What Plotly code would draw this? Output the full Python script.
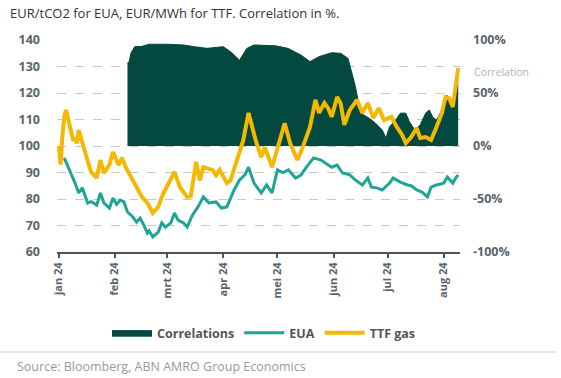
import plotly.graph_objects as go

# ---------------- data ----------------
ttf_dates = ["2024-01-01", "2024-01-02", "2024-01-03", "2024-01-04", "2024-01-05", "2024-01-08",
             "2024-01-09", "2024-01-10", "2024-01-11", "2024-01-12", "2024-01-14", "2024-01-16",
             "2024-01-18", "2024-01-19", "2024-01-22", "2024-01-24", "2024-01-26", "2024-01-29",
             "2024-01-31", "2024-02-03", "2024-02-05", "2024-02-07", "2024-02-10", "2024-02-13",
             "2024-02-16", "2024-02-19", "2024-02-22", "2024-02-25", "2024-02-27", "2024-03-01",
             "2024-03-05", "2024-03-08", "2024-03-12", "2024-03-14", "2024-03-15", "2024-03-17",
             "2024-03-19", "2024-03-21", "2024-03-26", "2024-03-28", "2024-03-30", "2024-04-03",
             "2024-04-05", "2024-04-10", "2024-04-12", "2024-04-15", "2024-04-17", "2024-04-19",
             "2024-04-22", "2024-04-24", "2024-04-28", "2024-05-01", "2024-05-03", "2024-05-05",
             "2024-05-08", "2024-05-12", "2024-05-15", "2024-05-19", "2024-05-22", "2024-05-24",
             "2024-05-27", "2024-05-29", "2024-05-31", "2024-06-03", "2024-06-05", "2024-06-07",
             "2024-06-10", "2024-06-14", "2024-06-17", "2024-06-20", "2024-06-23", "2024-06-26",
             "2024-06-29", "2024-07-03", "2024-07-06", "2024-07-09", "2024-07-11", "2024-07-14",
             "2024-07-17", "2024-07-19", "2024-07-22", "2024-07-25", "2024-07-28", "2024-07-31",
             "2024-08-02", "2024-08-04", "2024-08-06", "2024-08-08", "2024-08-09"]
ttf_values = [100, 93, 104, 111, 113.6, 104,
              102, 103, 101, 106, 101, 96,
              92, 90, 88, 94.7, 89.8, 93,
              97.7, 92.8, 95.5, 92, 88.3, 84,
              80.8, 78.5, 74.7, 77, 80.8, 85,
              90.2, 84.5, 80.8, 81, 86, 94,
              87, 92, 91, 89, 91, 86,
              87, 98.5, 102, 112.5, 107, 102,
              95.8, 99.6, 92, 99.6, 104, 108.6,
              101, 94.7, 99.6, 107.2, 117.4, 112.5,
              116.2, 114.3, 111, 118.5, 116, 108,
              113.6, 117.4, 112.5, 116.2, 110.6, 114.3,
              109.8, 111, 107.2, 104.2, 101.1, 103.4,
              106.8, 103, 103.4, 102.3, 107.2, 112.5,
              118.5, 118, 114.7, 125, 129.4]

eua_dates = ["2024-01-04", "2024-01-07", "2024-01-10", "2024-01-12", "2024-01-14", "2024-01-17",
             "2024-01-19", "2024-01-22", "2024-01-24", "2024-01-26", "2024-01-29", "2024-01-31",
             "2024-02-02", "2024-02-04", "2024-02-06", "2024-02-08", "2024-02-11", "2024-02-13",
             "2024-02-15", "2024-02-17", "2024-02-19", "2024-02-20", "2024-02-22", "2024-02-25",
             "2024-02-27", "2024-02-29", "2024-03-03", "2024-03-05", "2024-03-07", "2024-03-10",
             "2024-03-12", "2024-03-15", "2024-03-18", "2024-03-21", "2024-03-24", "2024-03-28",
             "2024-03-31", "2024-04-03", "2024-04-07", "2024-04-10", "2024-04-13", "2024-04-15",
             "2024-04-18", "2024-04-22", "2024-04-25", "2024-04-28", "2024-05-01", "2024-05-04",
             "2024-05-07", "2024-05-11", "2024-05-14", "2024-05-17", "2024-05-21", "2024-05-25",
             "2024-05-28", "2024-05-31", "2024-06-03", "2024-06-06", "2024-06-10", "2024-06-13",
             "2024-06-17", "2024-06-20", "2024-06-22", "2024-06-25", "2024-06-28", "2024-07-02",
             "2024-07-04", "2024-07-08", "2024-07-12", "2024-07-14", "2024-07-17", "2024-07-20",
             "2024-07-23", "2024-07-25", "2024-07-28", "2024-08-01", "2024-08-03", "2024-08-06",
             "2024-08-08", "2024-08-09"]
eua_values = [95.5, 91, 86, 82.3, 84.2, 78.5,
              79, 77.7, 82.3, 78.5, 76.6, 80.4,
              78, 79.6, 78.9, 75.1, 73.2, 71.3,
              72.8, 70.2, 67.2, 68, 65.7, 67.5,
              71, 69.4, 71, 74.7, 72, 71,
              69.4, 74, 77, 80.8, 78.5, 78.9,
              76.6, 77, 83.4, 87.2, 89.1, 92,
              86, 82.3, 85.3, 82.3, 91, 90,
              91, 87.9, 89, 92, 95.5, 94.7,
              93.5, 92, 92.8, 89.8, 89.1, 87.2,
              85.3, 87.9, 84.5, 84.2, 83.4, 86,
              87.9, 86.4, 85.3, 85, 83.4, 82.6,
              80.8, 84.5, 85.3, 86, 88.3, 86,
              88.3, 89.1]

corr_dates = ["2024-02-08", "2024-02-09", "2024-02-10", "2024-02-12", "2024-02-16", "2024-02-20",
              "2024-03-01", "2024-03-10", "2024-03-16", "2024-03-23", "2024-04-01", "2024-04-05",
              "2024-04-10", "2024-04-14", "2024-04-18", "2024-04-30", "2024-05-07", "2024-05-14",
              "2024-05-19", "2024-05-24", "2024-05-31", "2024-06-05", "2024-06-09", "2024-06-11",
              "2024-06-13", "2024-06-16", "2024-06-20", "2024-06-24", "2024-06-28", "2024-06-30",
              "2024-07-02", "2024-07-06", "2024-07-08", "2024-07-11", "2024-07-13", "2024-07-16",
              "2024-07-19", "2024-07-22", "2024-07-24", "2024-07-26", "2024-07-28", "2024-08-01",
              "2024-08-03", "2024-08-05", "2024-08-07", "2024-08-08", "2024-08-09"]
corr_values = [78, 80, 88, 93.7, 94, 96,
               96, 95.3, 93.7, 92.1, 93.7, 89,
               81, 92, 95.3, 94.5, 92, 85.8,
               79.6, 84.3, 88, 87.4, 82.7, 70,
               57, 31, 27, 22, 15, 7.5,
               18, 26, 31, 31, 23, 15,
               20, 31, 34, 27, 24.5, 37,
               48, 40, 43, 59, 72]

month_ticks = ["2024-01-01", "2024-02-01", "2024-03-01", "2024-04-01",
               "2024-05-01", "2024-06-01", "2024-07-01", "2024-08-01"]
month_labels = ["jan 24", "feb 24", "mrt 24", "apr 24", "mei 24", "jun 24", "jul 24", "aug 24"]
left_ticks = [60, 70, 80, 90, 100, 110, 120, 130, 140]
right_ticks = [-100, -50, 0, 50, 100]
right_labels = ["-100%", "-50%", "0%", "50%", "100%"]

# ---------------- styling ----------------
DARK = "#03493f"
TEAL = "#1fa595"
GOLD = "#f5b800"
TICK_COLOR = "#59646d"
FONT = "Open Sans"

fig = go.Figure()
# correlation area on the primary (right-hand, %) axis so the price lines draw above it
fig.add_trace(go.Scatter(x=corr_dates, y=corr_values, name="Correlations", yaxis="y",
                         mode="lines", fill="tozeroy", fillcolor=DARK,
                         line=dict(color=DARK, width=1)))
fig.add_trace(go.Scatter(x=eua_dates, y=eua_values, name="EUA", mode="lines", yaxis="y2",
                         line=dict(color=TEAL, width=3)))
fig.add_trace(go.Scatter(x=ttf_dates, y=ttf_values, name="TTF gas", mode="lines", yaxis="y2",
                         line=dict(color=GOLD, width=4)))

W, H = 561, 378
L, R, T, B = 57, 101, 40, 126
pw, ph = W - L - R, H - T - B


def px_x(x):
    return (x - L) / pw


def px_y(y):
    return (H - B - y) / ph


tickfont = dict(family=FONT, size=12.5, color=TICK_COLOR, weight="bold")

fig.update_layout(
    width=W, height=H,
    margin=dict(l=L, r=R, t=T, b=B, pad=0),
    paper_bgcolor="white", plot_bgcolor="white",
    font=dict(family=FONT, color=TICK_COLOR),
    showlegend=True,
    legend=dict(orientation="h", x=px_x(264), xanchor="center", y=px_y(333), yanchor="middle",
                font=dict(family=FONT, size=12.5, color="#555555", weight="bold"),
                itemwidth=40, traceorder="normal", bgcolor="rgba(0,0,0,0)"),
    xaxis=dict(type="date", range=["2023-12-31", "2024-08-10"],
               tickvals=month_ticks, ticktext=month_labels, tickangle=-90,
               showgrid=False, zeroline=False,
               showline=True, linecolor="#4b5660", linewidth=2,
               ticks="outside", ticklen=4, tickwidth=2, tickcolor="#4b5660",
               tickfont=dict(family=FONT, size=11, color=TICK_COLOR, weight="bold")),
    # right-hand % axis (primary): carries the dashed grid, every 25% = every 10 on the left
    yaxis=dict(range=[-100, 100], tickvals=right_ticks, ticktext=right_labels,
               side="right", showgrid=True, gridcolor="#c8c8c8", griddash="dash", gridwidth=1,
               minor=dict(dtick=25, tick0=0, showgrid=True, gridcolor="#c8c8c8",
                          griddash="dash", gridwidth=1, ticks=""),
               zeroline=False, showline=False, ticks="", ticklabelstandoff=12,
               tickfont=tickfont),
    # left-hand price axis
    yaxis2=dict(range=[60, 140], tickvals=left_ticks, overlaying="y", side="left",
                showgrid=False, zeroline=False, showline=False, ticks="",
                ticklabelstandoff=16, tickfont=tickfont),
)

fig.add_annotation(text="EUR/tCO2 for EUA, EUR/MWh for TTF. Correlation in %.",
                   xref="paper", yref="paper", x=px_x(8), y=px_y(13),
                   xanchor="left", yanchor="middle", showarrow=False,
                   font=dict(family=FONT, size=13, color="#333333"))
fig.add_annotation(text="Correlation", xref="paper", yref="paper", x=px_x(472), y=px_y(72),
                   xanchor="left", yanchor="middle", showarrow=False,
                   font=dict(family=FONT, size=10.5, color="#b3b3b3"))
fig.add_annotation(text="Source: Bloomberg, ABN AMRO Group Economics", xref="paper", yref="paper",
                   x=px_x(15), y=px_y(366), xanchor="left", yanchor="middle", showarrow=False,
                   font=dict(family=FONT, size=12.5, color="#9a9a9a"))
fig.add_shape(type="line", xref="paper", yref="paper", x0=px_x(0), x1=px_x(556),
              y0=px_y(352), y1=px_y(352), line=dict(color="#cfcfcf", width=1))

fig.write_html("out.html", config={"displayModeBar": False},
               post_script="document.body.style.margin='0';")
